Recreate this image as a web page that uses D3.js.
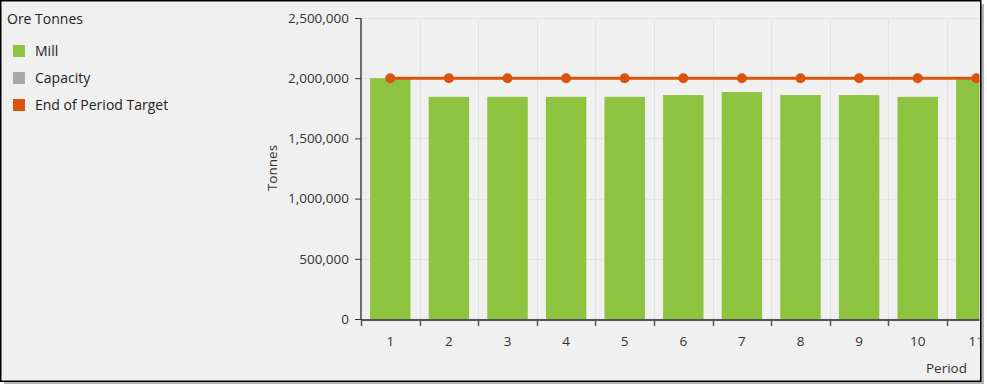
<!DOCTYPE html>
<html><head><meta charset="utf-8">
<script src="https://cdn.jsdelivr.net/npm/d3@7"></script>
<style>
html,body{margin:0;padding:0;background:#fff;}
svg text{font-family:"Open Sans","Noto Sans",sans-serif;}
</style></head>
<body><svg id="c" width="987" height="388"></svg>
<script>
const periods = ["1","2","3","4","5","6","7","8","9","10","11"];
const millTonnes = [2000000,1845000,1845000,1845000,1845000,1860000,1885000,1860000,1860000,1845000,1990000];
const targetTonnes = [2000000,2000000,2000000,2000000,2000000,2000000,2000000,2000000,2000000,2000000,2000000];
const yTicks = [0,500000,1000000,1500000,2000000,2500000];
const legendItems = [{name:"Mill",color:"#8dc33f"},{name:"Capacity",color:"#a9a9a9"},{name:"End of Period Target",color:"#d9540e"}];

const svg = d3.select("#c");
// frame shadow + frame
svg.append("rect").attr("x",4).attr("y",4).attr("width",980).attr("height",380).attr("fill","#b4b4b4");
svg.append("rect").attr("x",0.75).attr("y",0.75).attr("width",980).attr("height",380.5)
  .attr("fill","#f0f0f0").attr("stroke","#000").attr("stroke-width",1.5);

svg.append("defs").append("clipPath").attr("id","clip")
  .append("rect").attr("x",0).attr("y",0).attr("width",979.5).attr("height",380);

const g = svg.append("g").attr("clip-path","url(#clip)");

const x0 = 361, bandW = 58.6;
const x = d3.scaleBand().domain(periods).range([x0, x0 + bandW*periods.length]).paddingInner(0.31).paddingOuter(0.155);
const xb = d3.scaleBand().domain(periods).range([x0, x0 + bandW*periods.length]).padding(0);
const y = d3.scaleLinear().domain([0,2500000]).range([319,18]);

// gridlines
g.append("g").selectAll("line.h").data(yTicks).join("line")
  .attr("x1",x0).attr("x2",1010).attr("y1",d=>Math.round(y(d))+0.5).attr("y2",d=>Math.round(y(d))+0.5)
  .attr("stroke","#e3e3e3").attr("stroke-width",1);
g.append("g").selectAll("line.v").data(periods.slice(1)).join("line")
  .attr("x1",d=>Math.round(xb(d))+0.5).attr("x2",d=>Math.round(xb(d))+0.5).attr("y1",18).attr("y2",319)
  .attr("stroke","#e3e3e3").attr("stroke-width",1);

// bars
g.append("g").selectAll("rect").data(millTonnes).join("rect")
  .attr("x",(d,i)=>x(periods[i])).attr("width",x.bandwidth())
  .attr("y",d=>y(d)).attr("height",d=>y(0)-y(d)).attr("fill","#8dc33f");

// target line
const lineGen = d3.line().x((d,i)=>xb(periods[i])+xb.bandwidth()/2).y(d=>y(d));
g.append("path").datum(targetTonnes).attr("d",lineGen).attr("fill","none").attr("stroke","#d9540e").attr("stroke-width",3);
g.append("g").selectAll("circle").data(targetTonnes).join("circle")
  .attr("cx",(d,i)=>xb(periods[i])+xb.bandwidth()/2).attr("cy",d=>y(d)).attr("r",5).attr("fill","#d9540e");

// y axis
const yAxis = g.append("g").attr("transform",`translate(${x0},0)`)
  .call(d3.axisLeft(y).tickValues(yTicks).tickFormat(d3.format(",")).tickSize(6).tickPadding(6));
yAxis.select(".domain").attr("stroke","#6e6e6e").attr("stroke-width",2).attr("d","M0,18V320");
yAxis.selectAll(".tick line").attr("stroke","#333");
yAxis.selectAll("text").attr("fill","#333").attr("font-size",13.5).attr("font-family","Open Sans, sans-serif");

// x axis
const xAxis = g.append("g").attr("transform","translate(0,320)")
  .call(d3.axisBottom(xb).tickSize(0).tickPadding(16));
xAxis.select(".domain").attr("stroke","#222").attr("stroke-width",1.5).attr("d",`M${x0},0H1010`);
xAxis.selectAll("text").attr("fill","#333").attr("font-size",13.5).attr("font-family","Open Sans, sans-serif");
g.append("g").selectAll("line").data(periods).join("line")
  .attr("x1",d=>Math.round(xb(d))+0.5).attr("x2",d=>Math.round(xb(d))+0.5).attr("y1",320).attr("y2",326)
  .attr("stroke","#555").attr("stroke-width",1.5);

// axis titles
svg.append("text").attr("x",967).attr("y",373).attr("text-anchor","end").attr("font-size",13.5).attr("fill","#333").text("Period");
svg.append("text").attr("transform","translate(277,168) rotate(-90)").attr("text-anchor","middle").attr("font-size",13.5).attr("fill","#333").text("Tonnes");

// legend
svg.append("text").attr("x",7).attr("y",24).attr("font-size",14).attr("fill","#222").text("Ore Tonnes");
const lg = svg.append("g").selectAll("g").data(legendItems).join("g")
  .attr("transform",(d,i)=>`translate(13,${45+i*27})`);
lg.append("rect").attr("width",12).attr("height",12).attr("fill",d=>d.color);
lg.append("text").attr("x",22).attr("y",11).attr("font-size",14).attr("fill","#222").text(d=>d.name);
</script></body></html>
